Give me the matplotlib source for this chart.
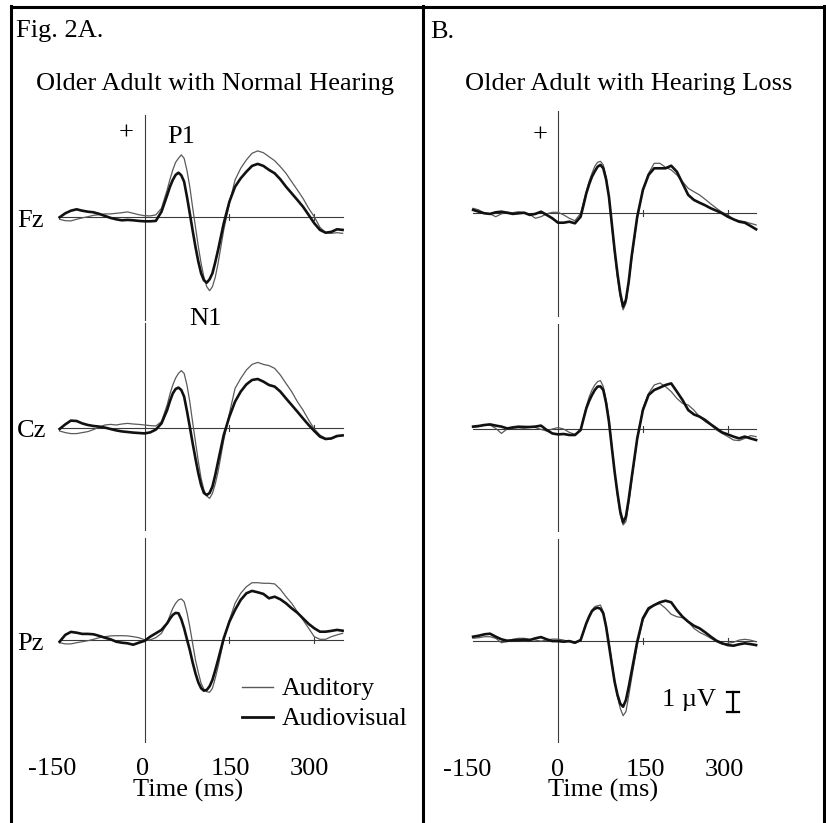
import matplotlib
matplotlib.use("Agg")
import matplotlib.pyplot as plt

plt.rcParams['font.family'] = ['Liberation Serif', 'DejaVu Serif']

# ---------------- data (time in ms, amplitude in microvolts) ----------------
times = [-150, -140, -130, -120, -110, -100, -90, -80, -70, -60, -50, -40, -30, -20, -10,
         0, 10, 20, 30, 40,
         45, 50, 55, 60, 65, 70, 75, 80, 85, 90, 95, 100, 105, 110, 115, 120, 125, 130,
         140, 150, 160, 170, 180, 190, 200, 210, 220, 230, 240, 250, 260, 270, 280, 290,
         300, 310, 320, 330, 340, 350]

normal_fz_aud = [-0.1, -0.17, -0.18, -0.1, -0.03, 0.03, 0.1, 0.13, 0.17, 0.17, 0.2, 0.23, 0.27, 0.2, 0.13,
                 0.08, 0.07, 0.12, 0.45, 1.37,
                 1.9, 2.37, 2.75, 2.95, 3.12, 2.95, 2.35, 1.53, 0.5, -0.47, -1.45, -2.3, -3.0, -3.47, -3.67, -3.47, -3.0, -2.3,
                 -0.63, 0.7, 1.87, 2.45, 2.87, 3.2, 3.32, 3.23, 3.03, 2.83, 2.53, 2.2, 1.78, 1.37, 0.95, 0.45,
                 0.03, -0.5, -0.77, -0.8, -0.77, -0.8]
normal_fz_av = [0.0, 0.2, 0.33, 0.4, 0.33, 0.28, 0.25, 0.17, 0.07, -0.03, -0.1, -0.15, -0.13, -0.15, -0.18,
                -0.2, -0.2, -0.18, 0.28, 1.1,
                1.53, 1.87, 2.12, 2.23, 2.1, 1.78, 1.03, 0.2, -0.65, -1.47, -2.2, -2.8, -3.15, -3.27, -3.1, -2.8, -2.25, -1.63,
                -0.3, 0.78, 1.53, 1.95, 2.28, 2.57, 2.67, 2.57, 2.37, 2.2, 1.9, 1.53, 1.2, 0.87, 0.53, 0.12,
                -0.3, -0.63, -0.77, -0.73, -0.6, -0.63]

normal_cz_aud = [-0.15, -0.23, -0.28, -0.28, -0.23, -0.18, -0.08, 0.05, 0.15, 0.18, 0.15, 0.2, 0.23, 0.2, 0.18,
                 0.15, 0.12, 0.1, 0.32, 1.15,
                 1.7, 2.15, 2.5, 2.73, 2.87, 2.73, 2.15, 1.32, 0.3, -0.68, -1.65, -2.52, -3.1, -3.4, -3.52, -3.27, -2.8, -2.18,
                 -0.6, 0.73, 1.98, 2.48, 2.9, 3.18, 3.28, 3.18, 3.12, 2.98, 2.65, 2.23, 1.82, 1.32, 0.9, 0.4,
                 -0.05, -0.35, -0.52, -0.55, -0.43, -0.37]
normal_cz_av = [-0.05, 0.18, 0.37, 0.35, 0.23, 0.15, 0.1, 0.07, 0.02, -0.05, -0.12, -0.17, -0.2, -0.23, -0.25,
                -0.27, -0.22, -0.08, 0.23, 0.9,
                1.35, 1.73, 1.95, 2.02, 1.9, 1.57, 0.85, 0.07, -0.75, -1.52, -2.25, -2.85, -3.25, -3.35, -3.25, -2.93, -2.35, -1.68,
                -0.35, 0.57, 1.32, 1.82, 2.18, 2.4, 2.45, 2.32, 2.15, 2.07, 1.82, 1.48, 1.15, 0.82, 0.48, 0.15,
                -0.15, -0.43, -0.55, -0.52, -0.4, -0.37]

normal_pz_aud = [-0.12, -0.18, -0.18, -0.12, -0.07, -0.02, 0.05, 0.13, 0.18, 0.22, 0.23, 0.23, 0.22, 0.18, 0.13,
                 0.03, 0.02, 0.13, 0.35, 0.85,
                 1.25, 1.6, 1.85, 2.02, 2.07, 1.93, 1.4, 0.68, -0.15, -0.98, -1.6, -2.15, -2.45, -2.57, -2.6, -2.4, -1.9, -1.32,
                 0.02, 1.02, 1.85, 2.35, 2.68, 2.88, 2.88, 2.85, 2.85, 2.82, 2.55, 2.18, 1.85, 1.43, 1.02, 0.6,
                 0.18, 0.05, 0.05, 0.18, 0.27, 0.35]
normal_pz_av = [-0.07, 0.27, 0.42, 0.38, 0.32, 0.32, 0.3, 0.22, 0.13, 0.05, -0.07, -0.12, -0.15, -0.22, -0.12,
                -0.03, 0.18, 0.35, 0.52, 0.85,
                1.08, 1.27, 1.37, 1.35, 1.05, 0.6, 0.05, -0.48, -1.1, -1.65, -2.1, -2.4, -2.52, -2.48, -2.3, -1.98, -1.5, -0.98,
                0.1, 0.93, 1.52, 2.02, 2.35, 2.47, 2.4, 2.32, 2.1, 2.18, 2.05, 1.85, 1.6, 1.38, 1.1, 0.82,
                0.6, 0.43, 0.43, 0.47, 0.52, 0.48]

loss_fz_aud = [0.25, 0.17, 0.0, -0.03, -0.17, -0.03, 0.05, 0.03, 0.08, 0.03, -0.05, -0.25, -0.17, -0.03, 0.05,
               0.05, -0.08, -0.25, -0.37, 0.0,
               0.55, 1.08, 1.6, 2.0, 2.35, 2.55, 2.6, 2.42, 1.8, 0.83, -0.6, -2.0, -3.2, -4.17, -4.83, -4.5, -3.5, -2.33,
               -0.25, 1.17, 2.0, 2.5, 2.5, 2.3, 2.17, 1.92, 1.58, 1.25, 1.08, 0.92, 0.7, 0.47, 0.25, 0.05,
               -0.08, -0.3, -0.37, -0.42, -0.5, -0.58]
loss_fz_av = [0.17, 0.08, 0.0, -0.03, 0.05, 0.08, 0.03, -0.03, 0.0, 0.03, -0.08, -0.03, 0.08, -0.08, -0.25,
              -0.47, -0.47, -0.42, -0.5, -0.17,
              0.4, 1.0, 1.45, 1.83, 2.1, 2.33, 2.42, 2.25, 1.7, 0.83, -0.5, -1.83, -3.0, -4.0, -4.67, -4.33, -3.4, -2.17,
              -0.17, 1.17, 1.92, 2.25, 2.25, 2.25, 2.38, 2.08, 1.5, 0.92, 0.67, 0.53, 0.4, 0.25, 0.13, 0.0,
              -0.17, -0.3, -0.42, -0.47, -0.63, -0.8]

loss_cz_aud = [0.08, 0.12, 0.2, 0.2, 0.03, -0.22, 0.0, 0.12, 0.15, 0.15, 0.12, 0.07, -0.02, -0.1, 0.0,
               0.07, 0.0, -0.17, -0.27, -0.05,
               0.55, 1.12, 1.6, 1.95, 2.2, 2.37, 2.42, 2.12, 1.45, 0.53, -0.8, -2.13, -3.3, -4.3, -4.8, -4.63, -3.7, -2.63,
               -0.55, 1.03, 1.78, 2.2, 2.3, 2.12, 1.87, 1.53, 1.28, 1.2, 0.95, 0.62, 0.37, 0.2, -0.05, -0.22,
               -0.38, -0.55, -0.58, -0.47, -0.33, -0.38]
loss_cz_av = [0.12, 0.15, 0.2, 0.23, 0.17, 0.12, 0.03, 0.07, 0.1, 0.08, 0.1, 0.12, 0.17, -0.05, -0.22,
              -0.27, -0.25, -0.3, -0.3, -0.05,
              0.5, 1.03, 1.4, 1.7, 1.95, 2.12, 2.13, 1.95, 1.3, 0.37, -0.9, -2.13, -3.2, -4.13, -4.67, -4.38, -3.5, -2.47,
              -0.47, 0.95, 1.7, 1.95, 2.07, 2.2, 2.28, 1.87, 1.45, 0.95, 0.73, 0.62, 0.45, 0.23, 0.03, -0.17,
              -0.27, -0.38, -0.47, -0.38, -0.47, -0.55]

loss_pz_aud = [0.12, 0.15, 0.2, 0.2, 0.12, -0.1, -0.05, 0.07, 0.12, 0.12, 0.07, 0.03, -0.02, 0.03, 0.08,
               0.08, 0.03, -0.05, -0.13, 0.07,
               0.45, 0.87, 1.25, 1.53, 1.7, 1.75, 1.78, 1.45, 0.75, -0.05, -1.05, -1.97, -2.8, -3.38, -3.75, -3.55, -2.75, -1.88,
               -0.22, 1.03, 1.53, 1.78, 1.85, 1.62, 1.32, 1.2, 1.15, 0.95, 0.62, 0.42, 0.28, 0.12, -0.05, -0.17,
               -0.13, -0.08, 0.03, 0.07, 0.03, -0.05]
loss_pz_av = [0.2, 0.25, 0.32, 0.35, 0.2, 0.07, 0.0, 0.02, 0.03, 0.05, 0.03, 0.12, 0.18, 0.07, -0.02,
              -0.02, -0.05, -0.02, -0.1, 0.03,
              0.45, 0.87, 1.2, 1.48, 1.6, 1.65, 1.6, 1.37, 0.7, -0.22, -1.15, -2.05, -2.7, -3.15, -3.3, -2.97, -2.3, -1.55,
              -0.05, 1.12, 1.62, 1.78, 1.92, 2.0, 1.92, 1.53, 1.2, 0.95, 0.75, 0.62, 0.42, 0.2, 0.0, -0.13,
              -0.22, -0.25, -0.18, -0.13, -0.17, -0.22]

electrodes = ["Fz", "Cz", "Pz"]
tick_labels = ["-150", "0", "150", "300"]
panel_titles = ["Older Adult with Normal Hearing", "Older Adult with Hearing Loss"]
legend_labels = ["Auditory", "Audiovisual"]

panels = [
    [(normal_fz_aud, normal_fz_av), (normal_cz_aud, normal_cz_av), (normal_pz_aud, normal_pz_av)],
    [(loss_fz_aud, loss_fz_av), (loss_cz_aud, loss_cz_av), (loss_pz_aud, loss_pz_av)],
]

# ---------------- layout (pixels) ----------------
W, H = 826, 823
fig = plt.figure(figsize=(W / 100, H / 100), dpi=100)
fig.patch.set_facecolor('white')

PX_PER_MS = 0.566
PX_PER_UV = 20.0
zero_x = [144.5, 558.0]
baselines = [[217.3, 428.0, 640.3], [213.3, 429.0, 640.7]]
vspans = [(5.1, -5.13), (5.25, -5.1), (5.1, -5.08)]

AUD_COLOR = '#5a5a5a'
AV_COLOR = '#111111'
AXIS_COLOR = '#3a3a3a'

for p in range(2):
    for r in range(3):
        x0 = zero_x[p]
        yb = baselines[p][r]
        left = x0 - 250 * PX_PER_MS
        right = x0 + 400 * PX_PER_MS
        top = yb - 5.6 * PX_PER_UV
        bottom = yb + 5.6 * PX_PER_UV
        ax = fig.add_axes([left / W, 1 - bottom / H, (right - left) / W, (bottom - top) / H])
        ax.set_xlim(-250, 400)
        ax.set_ylim(-5.6, 5.6)
        ax.axis('off')
        ax.patch.set_alpha(0)
        # axes lines
        ax.plot([-150, 350], [0, 0], color=AXIS_COLOR, lw=0.8, zorder=1)
        ax.plot([0, 0], [vspans[r][1], vspans[r][0]], color=AXIS_COLOR, lw=0.8, zorder=1)
        for tk in (150, 300):
            ax.plot([tk, tk], [-0.15, 0.15], color=AXIS_COLOR, lw=0.8, zorder=1)
        aud, av = panels[p][r]
        ax.plot(times, aud, color=AUD_COLOR, lw=0.9, zorder=2, solid_joinstyle='round')
        ax.plot(times, av, color=AV_COLOR, lw=1.9, zorder=3, solid_joinstyle='round')

# overlay in pixel coordinates for text and frame
ov = fig.add_axes([0, 0, 1, 1])
ov.set_xlim(0, W)
ov.set_ylim(H, 0)
ov.axis('off')
ov.patch.set_alpha(0)

# frame
ov.plot([10.5, 10.5], [6, H], color='black', lw=2.2)
ov.plot([10.5, 824], [6.5, 6.5], color='black', lw=2.2)
ov.plot([422.5, 422.5], [6, H], color='black', lw=2.2)
ov.plot([824, 824], [6, H], color='black', lw=2.2)

FS = 19
tk = dict(fontsize=FS, color='black')
ov.text(16, 37, "Fig. 2A.", ha='left', va='baseline', **tk)
ov.text(430, 38, "B.", ha='left', va='baseline', **tk)
ov.text(214.5, 90, panel_titles[0], ha='center', va='baseline', **tk)
ov.text(629, 90, panel_titles[1], ha='center', va='baseline', **tk)

ov.text(126, 134, "+", ha='center', va='center', **tk)
ov.text(540, 136, "+", ha='center', va='center', **tk)
ov.text(181, 143, "P1", ha='center', va='baseline', **tk)
ov.text(205, 325, "N1", ha='center', va='baseline', **tk)

elec_baselines = [227, 437, 650]
for name, yb in zip(electrodes, elec_baselines):
    ov.text(17, yb, name, ha='left', va='baseline', **tk)

left_tick_x = [52.5, 143, 230, 309]
right_tick_x = [467, 558, 645, 724]
for lab, xl, xr in zip(tick_labels, left_tick_x, right_tick_x):
    ov.text(xl, 775, lab, ha='center', va='baseline', **tk)
    ov.text(xr, 776, lab, ha='center', va='baseline', **tk)
ov.text(188, 797, "Time (ms)", ha='center', va='baseline', **tk)
ov.text(603, 797, "Time (ms)", ha='center', va='baseline', **tk)

# legend
ov.plot([242, 273], [687, 687], color=AUD_COLOR, lw=1.0)
ov.plot([242, 273], [717, 717], color=AV_COLOR, lw=2.0)
ov.text(282, 695, legend_labels[0], ha='left', va='baseline', fontsize=18.5)
ov.text(282, 725, legend_labels[1], ha='left', va='baseline', fontsize=18.5)

# 1 microvolt scale bar
ov.text(662, 706, "1 \u00b5V", ha='left', va='baseline', fontsize=FS)
bar_x = 733
ov.plot([bar_x, bar_x], [692, 712], color='black', lw=1.6)
ov.plot([bar_x - 6, bar_x + 6], [692, 692], color='black', lw=1.6)
ov.plot([bar_x - 6, bar_x + 6], [712, 712], color='black', lw=1.6)

fig.savefig("out.png", dpi=100, facecolor='white')
